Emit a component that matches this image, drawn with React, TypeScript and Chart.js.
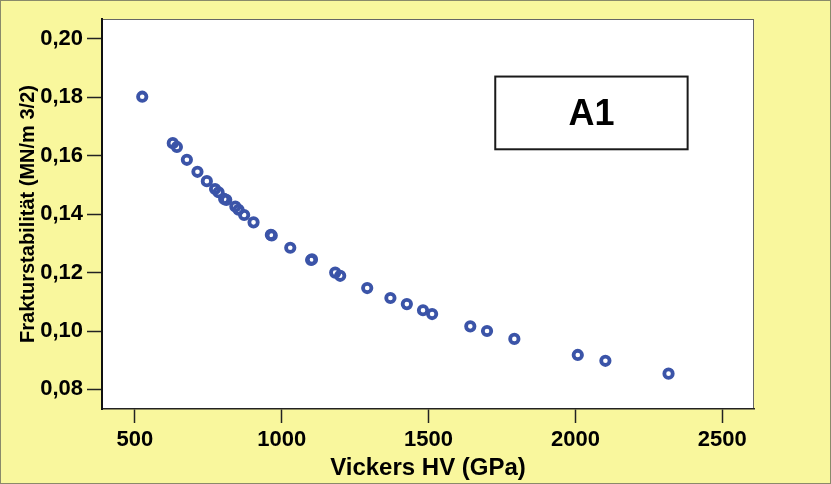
import React, { useEffect, useRef } from "react";
import { Chart, registerables } from "chart.js";

Chart.register(...registerables);

// Vickers hardness HV (GPa) and fracture toughness (MN/m^3/2)
const HARDNESS = [
  525, 629, 643, 677, 713, 745, 773, 785, 804, 811, 842, 853, 872, 904, 963, 966,
  1029, 1100, 1103, 1182, 1199, 1291, 1370, 1426, 1481, 1512, 1642, 1699, 1792,
  2008, 2102, 2317,
];
const TOUGHNESS = [
  0.1802, 0.1643, 0.163, 0.1586, 0.1545, 0.1513, 0.1486, 0.1475, 0.1452, 0.1449,
  0.1426, 0.1415, 0.1397, 0.1372, 0.1329, 0.1327, 0.1285, 0.1243, 0.1245, 0.12,
  0.1189, 0.1147, 0.1113, 0.1092, 0.1071, 0.1058, 0.1016, 0.1, 0.0973, 0.0918,
  0.0898, 0.0854,
];

const X_TICKS = [500, 1000, 1500, 2000, 2500];
const Y_TICKS = [0.08, 0.1, 0.12, 0.14, 0.16, 0.18, 0.2];
const X_RANGE = [388, 2608];
const Y_RANGE = [0.0733, 0.2068];

const X_TITLE = "Vickers HV (GPa)";
const Y_TITLE = "Frakturstabilität (MN/m 3/2)";
const LABEL_TEXT = "A1";
// label box corners in data coordinates
const LABEL_X = [1727, 2382];
const LABEL_Y = [0.1871, 0.1622];

const FONT = "'Liberation Sans', Arial, Helvetica, sans-serif";
const BG = "#f9f79d";
const POINT_COLOR = "#3b54a8";

const framePlugin = {
  id: "frame",
  beforeDraw(chart: any) {
    const { ctx, width, height, chartArea } = chart;
    ctx.save();
    ctx.fillStyle = BG;
    ctx.fillRect(0, 0, width, height);
    ctx.strokeStyle = "#8a8a6a";
    ctx.lineWidth = 1;
    ctx.strokeRect(0.5, 0.5, width - 1, height - 1);
    ctx.fillStyle = "#ffffff";
    ctx.fillRect(chartArea.left, chartArea.top, chartArea.right - chartArea.left, chartArea.bottom - chartArea.top);
    ctx.strokeStyle = "#666666";
    ctx.lineWidth = 1;
    ctx.strokeRect(chartArea.left + 0.5, chartArea.top + 0.5, chartArea.right - chartArea.left - 1, chartArea.bottom - chartArea.top - 1);
    ctx.restore();
  },
  afterDraw(chart: any) {
    const { ctx, scales } = chart;
    const x0 = scales.x.getPixelForValue(LABEL_X[0]);
    const x1 = scales.x.getPixelForValue(LABEL_X[1]);
    const y0 = scales.y.getPixelForValue(LABEL_Y[0]);
    const y1 = scales.y.getPixelForValue(LABEL_Y[1]);
    ctx.save();
    ctx.fillStyle = "#ffffff";
    ctx.fillRect(x0, y0, x1 - x0, y1 - y0);
    ctx.strokeStyle = "#1a1a1a";
    ctx.lineWidth = 2;
    ctx.strokeRect(x0, y0, x1 - x0, y1 - y0);
    ctx.fillStyle = "#000000";
    ctx.font = `bold 36px ${FONT}`;
    ctx.textAlign = "center";
    ctx.textBaseline = "middle";
    ctx.fillText(LABEL_TEXT, (x0 + x1) / 2, (y0 + y1) / 2 + 2);
    ctx.restore();
  },
};

export default function App() {
  const ref = useRef<HTMLCanvasElement>(null);

  useEffect(() => {
    document.body.style.margin = "0";
    const canvas = ref.current;
    if (!canvas) return;
    const chart = new Chart(canvas, {
      type: "scatter",
      data: {
        datasets: [
          {
            data: HARDNESS.map((h, i) => ({ x: h, y: TOUGHNESS[i] })),
            pointRadius: 4.2,
            pointBorderWidth: 3.8,
            pointBorderColor: POINT_COLOR,
            pointBackgroundColor: "rgba(255,255,255,0)",
            pointHoverRadius: 4.2,
          },
        ],
      },
      options: {
        responsive: false,
        animation: false,
        events: [],
        layout: { padding: { left: 0, top: 19, right: 77, bottom: 0 } },
        plugins: {
          legend: { display: false },
          tooltip: { enabled: false },
          title: { display: false },
        },
        scales: {
          x: {
            type: "linear",
            position: "bottom",
            min: X_RANGE[0],
            max: X_RANGE[1],
            afterBuildTicks: (scale: any) => {
              scale.ticks = X_TICKS.map((v) => ({ value: v }));
            },
            afterFit: (scale: any) => {
              scale.height = 75;
            },
            grid: {
              display: true,
              drawOnChartArea: false,
              drawTicks: true,
              tickLength: 14,
              tickColor: "#222222",
              tickWidth: 1.5,
            },
            border: { display: true, color: "#222222", width: 1.5 },
            ticks: {
              padding: 4,
              color: "#000000",
              font: { family: FONT, size: 22, weight: "bold" },
              maxRotation: 0,
              callback: (v: any) => String(v),
            },
            title: {
              display: true,
              text: X_TITLE,
              color: "#000000",
              font: { family: FONT, size: 24, weight: "bold" },
              padding: { top: 0, bottom: 1 },
            },
          },
          y: {
            type: "linear",
            position: "left",
            min: Y_RANGE[0],
            max: Y_RANGE[1],
            afterBuildTicks: (scale: any) => {
              scale.ticks = Y_TICKS.map((v) => ({ value: v }));
            },
            afterFit: (scale: any) => {
              scale.width = 102;
            },
            grid: {
              display: true,
              drawOnChartArea: false,
              drawTicks: true,
              tickLength: 15,
              tickColor: "#222222",
              tickWidth: 1.5,
            },
            border: { display: true, color: "#111111", width: 2 },
            ticks: {
              padding: 4,
              color: "#000000",
              font: { family: FONT, size: 22, weight: "bold" },
              callback: (v: any) => Number(v).toFixed(2).replace(".", ","),
            },
            title: {
              display: true,
              text: Y_TITLE,
              color: "#000000",
              font: { family: FONT, size: 20, weight: "bold" },
              padding: { top: 16, bottom: 0 },
            },
          },
        },
      },
      plugins: [framePlugin],
    });
    return () => chart.destroy();
  }, []);

  return (
    <div style={{ position: "absolute", left: 0, top: 0, width: 831, height: 484 }}>
      <canvas ref={ref} width={831} height={484} style={{ display: "block", width: 831, height: 484 }} />
    </div>
  );
}
